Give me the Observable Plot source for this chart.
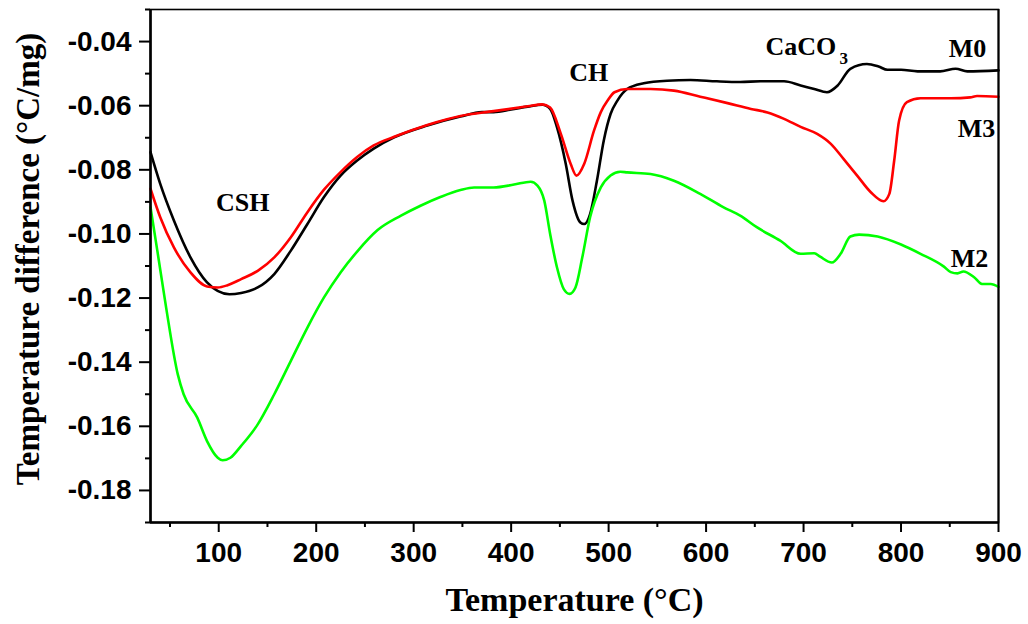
<!DOCTYPE html>
<html>
<head>
<meta charset="utf-8">
<script src="https://cdn.jsdelivr.net/npm/d3@7"></script>
<script src="https://cdn.jsdelivr.net/npm/@observablehq/plot@0.6"></script>
<style>
  html, body { margin: 0; padding: 0; background: #fff; }
  #chart { width: 1028px; height: 624px; }
</style>
</head>
<body>
<div id="chart"></div>
<script>
// ---- Data (temperature °C, temperature difference °C/mg) ----
const m0Temp = [30,40,54,71,88,111,123,140,157,174,191,208,225,242,259,280,314,348,370,382,400,417,432,440,447,456,463,471,475,481,488,495,502,509,519,536,560,584,611,635,656,680,697,711,724,735,748,765,777,786,800,817,840,856,868,900];
const m0Value = [-0.0745,-0.0844,-0.0958,-0.1073,-0.1151,-0.1188,-0.1184,-0.1167,-0.1125,-0.1052,-0.0969,-0.0885,-0.0818,-0.0771,-0.0734,-0.0699,-0.0662,-0.0634,-0.0620,-0.0620,-0.0612,-0.0603,-0.0597,-0.0610,-0.0667,-0.0781,-0.0896,-0.0964,-0.0969,-0.0938,-0.0834,-0.0709,-0.0626,-0.0584,-0.0548,-0.0530,-0.0522,-0.0520,-0.0524,-0.0526,-0.0524,-0.0524,-0.0537,-0.0548,-0.0558,-0.0537,-0.0485,-0.0470,-0.0478,-0.0488,-0.0488,-0.0493,-0.0493,-0.0485,-0.0493,-0.0490];

const m3Temp = [30,40,54,71,88,99,109,123,140,157,174,191,208,225,242,259,280,314,348,382,417,432,440,451,461,467,475,485,492,499,506,519,543,567,594,622,646,663,680,697,714,728,741,755,769,782,788,793,798,806,820,851,871,878,900];
const m3Value = [-0.0859,-0.0948,-0.1042,-0.1120,-0.1164,-0.1167,-0.1160,-0.1141,-0.1115,-0.1073,-0.1010,-0.0932,-0.0862,-0.0807,-0.0760,-0.0724,-0.0697,-0.0660,-0.0632,-0.0617,-0.0602,-0.0596,-0.0606,-0.0688,-0.0781,-0.0818,-0.0781,-0.0678,-0.0620,-0.0584,-0.0558,-0.0548,-0.0548,-0.0553,-0.0572,-0.0592,-0.0610,-0.0621,-0.0641,-0.0666,-0.0688,-0.0719,-0.0766,-0.0818,-0.0870,-0.0898,-0.0875,-0.0771,-0.0647,-0.0589,-0.0577,-0.0577,-0.0574,-0.0570,-0.0572];

const m2Temp = [30,37,46,58,64,78,88,99,104,112,123,140,157,174,191,208,225,242,263,287,307,328,348,362,382,403,420,427,434,440,447,454,460,466,473,481,492,502,512,519,543,567,594,618,635,652,676,697,711,717,729,738,748,757,776,800,820,844,851,858,864,875,883,892,900];
const m2Value = [-0.0917,-0.1052,-0.1229,-0.1438,-0.1500,-0.1573,-0.1646,-0.1698,-0.1706,-0.1698,-0.1661,-0.1594,-0.1500,-0.1396,-0.1292,-0.1198,-0.1120,-0.1055,-0.0988,-0.0943,-0.0912,-0.0884,-0.0863,-0.0855,-0.0855,-0.0846,-0.0837,-0.0849,-0.0896,-0.1000,-0.1104,-0.1172,-0.1187,-0.1167,-0.1073,-0.0948,-0.0855,-0.0818,-0.0806,-0.0808,-0.0813,-0.0834,-0.0875,-0.0917,-0.0943,-0.0979,-0.1021,-0.1062,-0.1060,-0.1071,-0.1089,-0.1062,-0.1008,-0.1002,-0.1008,-0.1033,-0.1062,-0.1102,-0.1119,-0.1123,-0.1117,-0.1135,-0.1156,-0.1156,-0.1165];

const seriesNames = ["M0", "M3", "M2"];
const seriesColors = ["#000000", "#ff0000", "#00ff00"];

// ---- Ticks ----
const xTicks = [100, 200, 300, 400, 500, 600, 700, 800, 900];
const xTickLabels = ["100", "200", "300", "400", "500", "600", "700", "800", "900"];
const xMinorTicks = [50, 150, 250, 350, 450, 550, 650, 750, 850];
const yTicks = [-0.18, -0.16, -0.14, -0.12, -0.10, -0.08, -0.06, -0.04];
const yTickLabels = ["-0.18", "-0.16", "-0.14", "-0.12", "-0.10", "-0.08", "-0.06", "-0.04"];
const yMinorTicks = [-0.19, -0.17, -0.15, -0.13, -0.11, -0.09, -0.07, -0.05, -0.03];

// ---- Annotations ----
const annText = ["CSH", "CH", "M0", "M3", "M2"];
const annTemp = [124.6, 479.5, 868.2, 877.4, 870.3];
const annValue = [-0.0902, -0.0497, -0.0422, -0.0671, -0.1077];
const caco3Text = ["CaCO"];
const caco3Temp = [661];
const caco3Value = [-0.0417];
const subText = ["3"];
const subTemp = [737];
const subValue = [-0.0453];

const xLabel = "Temperature (°C)";
const yLabel = "Temperature difference (°C/mg)";

// ---- Build tables ----
function rows(name, t, v) { return t.map((d, i) => ({series: name, temp: d, value: v[i]})); }
const data = [
  ...rows("M0", m0Temp, m0Value),
  ...rows("M3", m3Temp, m3Value),
  ...rows("M2", m2Temp, m2Value)
];
const annotations = annText.map((t, i) => ({text: t, temp: annTemp[i], value: annValue[i]}));
const caco3 = caco3Text.map((t, i) => ({text: t, temp: caco3Temp[i], value: caco3Value[i]}));
const sub = subText.map((t, i) => ({text: t, temp: subTemp[i], value: subValue[i]}));

const sans = "'Liberation Sans', Arial, Helvetica, sans-serif";
const serif = "'Liberation Serif', 'Times New Roman', Times, serif";

const chart = Plot.plot({
  width: 1028,
  height: 624,
  marginTop: 9,
  marginRight: 30,
  marginBottom: 102,
  marginLeft: 150,
  style: {background: "#fff", color: "#000", overflow: "visible"},
  x: {domain: [30, 900]},
  y: {domain: [-0.19, -0.03]},
  color: {domain: seriesNames, range: seriesColors},
  marks: [
    Plot.frame({stroke: "#000", strokeWidth: 1.6}),
    Plot.lineY(data, {x: "temp", y: "value", z: "series", stroke: "series", strokeWidth: 2.6, curve: "monotone-x"}),
    Plot.ruleX([30], {stroke: "#000", strokeWidth: 2.6}),
    Plot.ruleY([-0.19], {stroke: "#000", strokeWidth: 2.6}),
    Plot.ruleX([900], {stroke: "#000", strokeWidth: 2}),
    Plot.axisY({ticks: yTicks, tickSize: 11, tickPadding: 8, strokeWidth: 2,
      tickFormat: d => yTickLabels[yTicks.findIndex(t => Math.abs(t - d) < 1e-9)],
      fontSize: 28, fontWeight: "bold", fontFamily: sans, label: null}),
    Plot.axisY({ticks: yMinorTicks, tickSize: 5, strokeWidth: 2, tickFormat: () => "", label: null}),
    Plot.axisX({ticks: xTicks, tickSize: 10, tickPadding: 10, strokeWidth: 2,
      tickFormat: d => xTickLabels[xTicks.indexOf(d)],
      fontSize: 28, fontWeight: "bold", fontFamily: sans, label: null}),
    Plot.axisX({ticks: xMinorTicks, tickSize: 5, strokeWidth: 2, tickFormat: () => "", label: null}),
    Plot.text([yLabel], {frameAnchor: "left", textAnchor: "middle", lineAnchor: "middle",
      rotate: -90, dx: -122, dy: -7,
      fontSize: 33, fontWeight: "bold", fontFamily: serif, fill: "#000"}),
    Plot.text([xLabel], {frameAnchor: "bottom", textAnchor: "middle", lineAnchor: "middle", dy: 78,
      fontSize: 34, fontWeight: "bold", fontFamily: serif, fill: "#000"}),
    Plot.text(annotations, {x: "temp", y: "value", text: "text",
      fontSize: 26, fontWeight: "bold", fontFamily: serif, fill: "#000"}),
    Plot.text(caco3, {x: "temp", y: "value", text: "text", textAnchor: "start",
      fontSize: 26, fontWeight: "bold", fontFamily: serif, fill: "#000"}),
    Plot.text(sub, {x: "temp", y: "value", text: "text", textAnchor: "start",
      fontSize: 17, fontWeight: "bold", fontFamily: serif, fill: "#000"})
  ]
});
document.getElementById("chart").appendChild(chart);
</script>
</body>
</html>
